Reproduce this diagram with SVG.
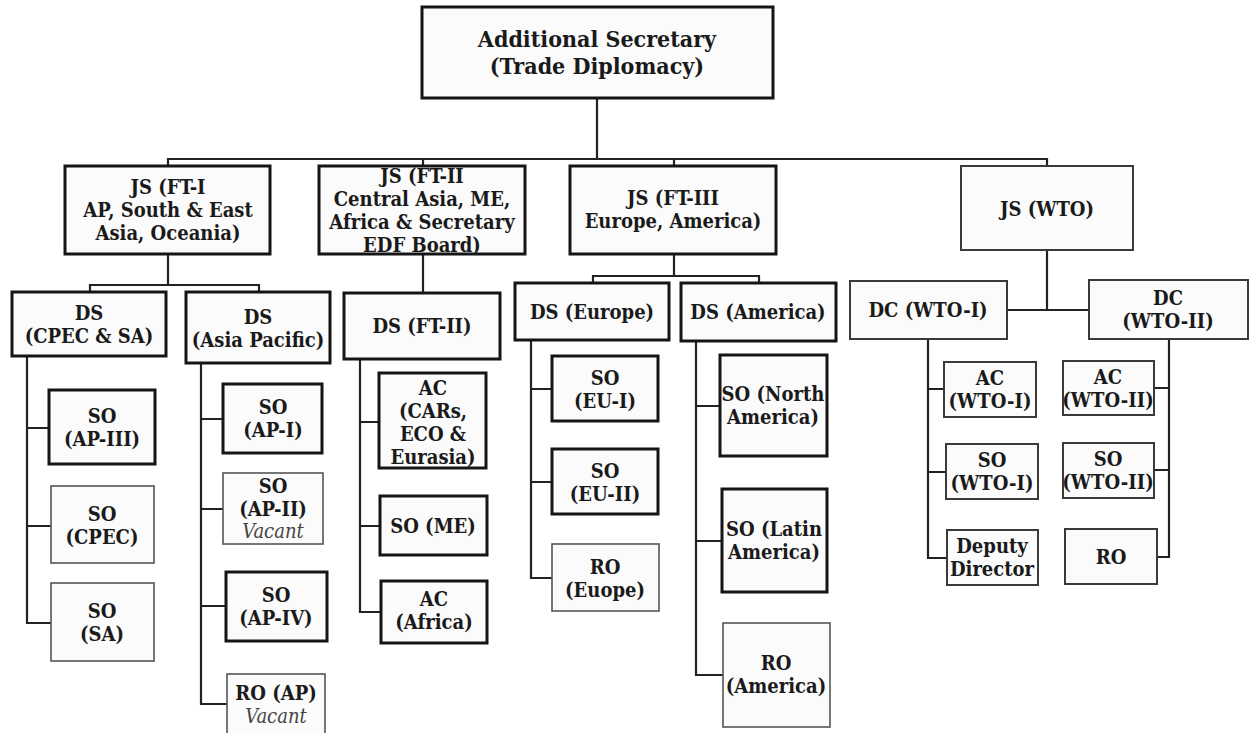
<svg xmlns="http://www.w3.org/2000/svg" width="1251" height="733" viewBox="0 0 1251 733">
<style>
rect{fill:#fbfbfb}
.k{stroke:#151515;stroke-width:3}
.t{stroke:#555;stroke-width:1.6}
.m{stroke:#3a3a3a;stroke-width:2}
text{font-family:"DejaVu Serif Condensed","DejaVu Serif",serif;font-stretch:condensed;font-weight:bold;font-size:20px;fill:#1a1a1a;text-anchor:middle}
.top{font-size:23px}
.v{font-weight:normal;font-style:italic;fill:#444}
.c{fill:none;stroke:#222;stroke-width:2.2}
</style>
<rect width="1251" height="733" style="fill:#fff"/>
<g id="connectors" class="c">
<path d="M597,98 V159 M168,166 V159 H1047 V166 M423,159 V166 M674,159 V166"/>
<path d="M168,254 V285 M90,292 V285 H259 V292"/>
<path d="M423,254 V293"/>
<path d="M674,254 V276 M593,283 V276 H759 V283"/>
<path d="M1047,250 V310 M1007,310 H1089"/>
<path d="M27,356 V623 H51 M27,428 H49 M27,526 H51"/>
<path d="M201,363 V704 H227 M201,419 H223 M201,509 H223 M201,606 H226"/>
<path d="M360,359 V612 H381 M360,422 H379 M360,526 H380"/>
<path d="M531,340 V578 H552 M531,389 H552 M531,482 H552"/>
<path d="M696,341 V675 H723 M696,406 H720 M696,541 H722"/>
<path d="M928,339 V558 H947 M928,389 H944 M928,472 H946"/>
<path d="M1169,339 V557 H1157 M1169,388 H1154 M1169,470 H1154"/>
</g>
<g id="as"><rect class="k" x="422" y="7" width="351" height="91"/><text class="top" x="597" y="47">Additional Secretary</text><text class="top" x="597" y="74">(Trade Diplomacy)</text></g>
<g id="js1"><rect class="k" x="65" y="166" width="205" height="88"/><text x="168" y="194">JS (FT-I</text><text x="168" y="217">AP, South &amp; East</text><text x="168" y="240">Asia, Oceania)</text></g>
<g id="js2"><rect class="k" x="319" y="166" width="206" height="88"/><text x="422" y="183">JS (FT-II</text><text x="422" y="206">Central Asia, ME,</text><text x="422" y="229">Africa &amp; Secretary</text><text x="422" y="252">EDF Board)</text></g>
<g id="js3"><rect class="k" x="570" y="166" width="206" height="88"/><text x="673" y="205">JS (FT-III</text><text x="673" y="228">Europe, America)</text></g>
<g id="jswto"><rect class="m" x="961" y="166" width="172" height="84"/><text x="1047" y="216">JS (WTO)</text></g>
<g id="dscpec"><rect class="k" x="12" y="292" width="154" height="64"/><text x="89" y="320">DS</text><text x="89" y="343">(CPEC &amp; SA)</text></g>
<g id="dsap"><rect class="k" x="186" y="292" width="144" height="71"/><text x="258" y="324">DS</text><text x="258" y="347">(Asia Pacific)</text></g>
<g id="dsft2"><rect class="k" x="344" y="293" width="156" height="66"/><text x="422" y="333">DS (FT-II)</text></g>
<g id="dseu"><rect class="k" x="515" y="283" width="154" height="57"/><text x="592" y="319">DS (Europe)</text></g>
<g id="dsam"><rect class="k" x="681" y="283" width="155" height="58"/><text x="758" y="319">DS (America)</text></g>
<g id="dcw1"><rect class="m" x="850" y="281" width="157" height="58"/><text x="928" y="317">DC (WTO-I)</text></g>
<g id="dcw2"><rect class="m" x="1089" y="280" width="159" height="59"/><text x="1168" y="305">DC</text><text x="1168" y="328">(WTO-II)</text></g>
<g id="so_ap3"><rect class="k" x="49" y="390" width="106" height="74"/><text x="102" y="423">SO</text><text x="102" y="446">(AP-III)</text></g>
<g id="so_cpec"><rect class="t" x="51" y="486" width="103" height="77"/><text x="102" y="521">SO</text><text x="102" y="544">(CPEC)</text></g>
<g id="so_sa"><rect class="t" x="51" y="583" width="103" height="78"/><text x="102" y="618">SO</text><text x="102" y="641">(SA)</text></g>
<g id="so_ap1"><rect class="k" x="223" y="384" width="99" height="69"/><text x="273" y="414">SO</text><text x="273" y="437">(AP-I)</text></g>
<g id="so_ap2"><rect class="t" x="223" y="473" width="100" height="71"/><text x="273" y="493">SO</text><text x="273" y="516">(AP-II)</text><text class="v" x="273" y="538">Vacant</text></g>
<g id="so_ap4"><rect class="k" x="226" y="572" width="101" height="69"/><text x="276" y="602">SO</text><text x="276" y="625">(AP-IV)</text></g>
<g id="ro_ap"><rect class="t" x="227" y="674" width="98" height="62"/><text x="276" y="700">RO (AP)</text><text class="v" x="276" y="723">Vacant</text></g>
<g id="ac_car"><rect class="k" x="379" y="373" width="107" height="95"/><text x="433" y="395">AC</text><text x="433" y="418">(CARs,</text><text x="433" y="441">ECO &amp;</text><text x="433" y="464">Eurasia)</text></g>
<g id="so_me"><rect class="k" x="380" y="496" width="107" height="59"/><text x="433" y="533">SO (ME)</text></g>
<g id="ac_af"><rect class="k" x="381" y="581" width="106" height="62"/><text x="434" y="606">AC</text><text x="434" y="629">(Africa)</text></g>
<g id="so_eu1"><rect class="k" x="552" y="356" width="106" height="65"/><text x="605" y="385">SO</text><text x="605" y="408">(EU-I)</text></g>
<g id="so_eu2"><rect class="k" x="552" y="449" width="106" height="65"/><text x="605" y="478">SO</text><text x="605" y="501">(EU-II)</text></g>
<g id="ro_eu"><rect class="t" x="552" y="544" width="107" height="67"/><text x="605" y="574">RO</text><text x="605" y="597">(Euope)</text></g>
<g id="so_na"><rect class="k" x="720" y="355" width="107" height="101"/><text x="773" y="401">SO (North</text><text x="773" y="424">America)</text></g>
<g id="so_la"><rect class="k" x="722" y="489" width="105" height="103"/><text x="774" y="536">SO (Latin</text><text x="774" y="559">America)</text></g>
<g id="ro_am"><rect class="t" x="723" y="623" width="107" height="104"/><text x="776" y="670">RO</text><text x="776" y="693">(America)</text></g>
<g id="ac_w1"><rect class="m" x="944" y="362" width="92" height="55"/><text x="990" y="385">AC</text><text x="990" y="408">(WTO-I)</text></g>
<g id="so_w1"><rect class="m" x="946" y="444" width="92" height="55"/><text x="992" y="467">SO</text><text x="992" y="490">(WTO-I)</text></g>
<g id="dd"><rect class="m" x="947" y="530" width="91" height="55"/><text x="992" y="553">Deputy</text><text x="992" y="576">Director</text></g>
<g id="ac_w2"><rect class="m" x="1063" y="361" width="91" height="54"/><text x="1108" y="384">AC</text><text x="1108" y="407">(WTO-II)</text></g>
<g id="so_w2"><rect class="m" x="1063" y="443" width="91" height="55"/><text x="1108" y="466">SO</text><text x="1108" y="489">(WTO-II)</text></g>
<g id="ro_w"><rect class="m" x="1065" y="529" width="92" height="55"/><text x="1111" y="564">RO</text></g>
</svg>
